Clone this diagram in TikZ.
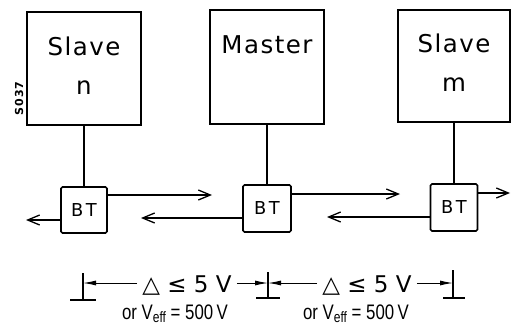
\documentclass[tikz,border=0pt]{standalone}
\usepackage{fontspec}
\setmainfont{DejaVu Sans}
\newfontfamily\dinfont[LetterSpace=6]{DejaVu Sans}
\newfontfamily\btfont[LetterSpace=14]{DejaVu Sans}
\newfontfamily\codefont[LetterSpace=10]{DejaVu Sans}
\newfontfamily\condfont[FakeStretch=0.8]{Liberation Sans}
\newcommand{\effsub}{\raisebox{-3pt}{\fontsize{15}{15}\selectfont eff}}
\usetikzlibrary{arrows.meta}
\begin{document}
\begin{tikzpicture}[x=1pt,y=-1pt,
  unit/.style={draw, line width=2pt, minimum width=114pt, minimum height=113pt,
    inner sep=0pt, font=\dinfont\fontsize{24.5}{30}\selectfont},
  bt/.style={draw, line width=1.7pt, minimum width=46pt, minimum height=46pt,
    rounded corners=1.5pt, inner sep=0pt, font=\btfont\fontsize{17.8}{18}\selectfont},
  conn/.style={line width=1.3pt},
  arr/.style={conn, -{Straight Barb[length=12pt,width=10pt,line width=1.3pt]}},
  dim/.style={line width=0.9pt, -{Latex[length=13pt,width=5pt]}},
  gnd/.style={line width=1.5pt},
  dimtxt/.style={inner xsep=5pt, inner ysep=0pt, font=\fontsize{23}{24}\selectfont},
  efftxt/.style={inner sep=0pt, font=\condfont\fontsize{21}{22}\selectfont},
  codetxt/.style={rotate=90, inner sep=0pt, font=\codefont\bfseries\fontsize{11}{12}\selectfont}
]
\useasboundingbox (0,0) rectangle (511,324);

% units
\node[unit] (sn) at (84,68.5) {\begin{tabular}{@{}c@{}}Slave\\[9pt]n\end{tabular}};
\node[unit, minimum width=114pt, minimum height=114pt] (ms) at (267,67) {\begin{tabular}{@{}c@{}}Master\\[9pt]\mbox{}\end{tabular}};
\node[unit, minimum width=112pt, minimum height=112pt] (sm) at (454,66) {\begin{tabular}{@{}c@{}}Slave\\[9pt]m\end{tabular}};
\node[codetxt] (code) at (19,98.5) {S037};

% bus transceivers
\node[bt] (bt1) at (84,210) {BT};
\node[bt, minimum width=48pt, minimum height=47pt] (bt2) at (267,208.5) {BT};
\node[bt, minimum width=47pt, minimum height=47pt] (bt3) at (454,207.5) {BT};

\draw[conn] (bt1.north |- sn.south) -- (bt1.north);
\draw[conn] (bt2.north |- ms.south) -- (bt2.north);
\draw[conn] (bt3.north |- sm.south) -- (bt3.north);

% signal arrows
\coordinate (a1) at (212,195);
\coordinate (a2) at (26,220);
\coordinate (a3) at (141,218);
\coordinate (a4) at (400,194);
\coordinate (a5) at (327,217);
\coordinate (a6) at (510,193);
\draw[arr] (bt1.east |- a1) -- (a1);
\draw[arr] (bt1.west |- a2) -- (a2);
\draw[arr] (bt2.west |- a3) -- (a3);
\draw[arr] (bt2.east |- a4) -- (a4);
\draw[arr] (bt3.west |- a5) -- (a5);
\draw[arr] (bt3.east |- a6) -- (a6);

% ground symbols
\coordinate (g1t) at (83,273);  \coordinate (g1b) at (83,300);
\coordinate (g2t) at (268,272); \coordinate (g2b) at (268,298);
\coordinate (g3t) at (453,270); \coordinate (g3b) at (453,298);
\draw[gnd] (g1t) -- (g1b) (70,300) -- (96,300);
\draw[gnd] (g2t) -- (g2b) (256,298) -- (280,298);
\draw[gnd] (g3t) -- (g3b) (443,298) -- (465,298);

% dimension lines
\coordinate (m1) at (83,283);
\coordinate (m2) at (268,283);
\coordinate (m3) at (453,283);
\node[dimtxt, anchor=base] (t1) at (187,292) {△ ≤ 5 V};
\node[dimtxt, anchor=base] (t2) at (367,292) {△ ≤ 5 V};
\draw[dim] (t1.west |- m1) -- (m1);
\draw[dim] (t1.east |- m2) -- (m2);
\draw[dim] (t2.west |- m2) -- (m2);
\draw[dim] (t2.east |- m3) -- (m3);

\node[efftxt, anchor=base] (e1) at (175,319) {or V\effsub{} = 500\,V};
\node[efftxt, anchor=base] (e2) at (356,319) {or V\effsub{} = 500\,V};
\end{tikzpicture}
\end{document}
